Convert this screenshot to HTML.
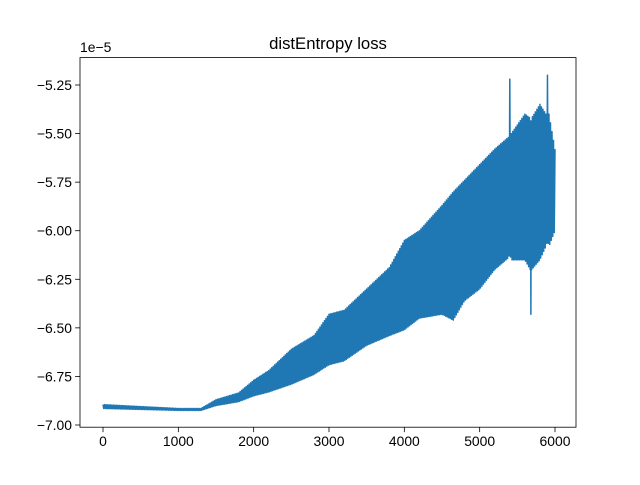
<!DOCTYPE html>
<html><head><meta charset="utf-8"><style>
body{margin:0;background:#fff}
svg text{font-family:"Liberation Sans","DejaVu Sans",sans-serif;fill:#000}
</style></head><body>
<svg width="640" height="480" id="c">
<rect x="0" y="0" width="640" height="480" fill="#fff"/>
<text x="328" y="49" font-size="16.7" text-anchor="middle">distEntropy loss</text>
<text x="80" y="52" font-size="13.9">1e−5</text>
<g id="series"></g>
<g id="axes"></g>
</svg>
<script>
const xTicks=[0,1000,2000,3000,4000,5000,6000];
const yTicks=[-5.25,-5.50,-5.75,-6.00,-6.25,-6.50,-6.75,-7.00];
const yTickLabels=["−5.25","−5.50","−5.75","−6.00","−6.25","−6.50","−6.75","−7.00"];
const steps=[0,500,1000,1300,1500,1800,2000,2200,2500,2800,3000,3200,3500,3800,4000,4200,4500,4650,4800,5000,5200,5380,5400,5420,5600,5670,5680,5690,5800,5880,5900,5920,6000];
const upper=[-6.895,-6.905,-6.915,-6.915,-6.87,-6.835,-6.77,-6.72,-6.61,-6.54,-6.43,-6.41,-6.30,-6.19,-6.05,-6.00,-5.87,-5.80,-5.74,-5.66,-5.58,-5.52,-5.22,-5.50,-5.40,-5.42,-5.45,-5.42,-5.35,-5.40,-5.20,-5.40,-5.58];
const lower=[-6.915,-6.92,-6.925,-6.925,-6.90,-6.88,-6.85,-6.83,-6.79,-6.74,-6.69,-6.67,-6.59,-6.54,-6.51,-6.45,-6.43,-6.46,-6.36,-6.30,-6.20,-6.14,-6.12,-6.15,-6.15,-6.20,-6.43,-6.20,-6.15,-6.08,-6.05,-6.08,-6.00];
const L=80,R=576,T=57.6,B=427.2;
const xs=v=>103+(v-0)*(555-103)/6000;
const ys=v=>85+(-5.25-v)*(425-85)/1.75;
const NS="http://www.w3.org/2000/svg";
function mk(t,a,p){const e=document.createElementNS(NS,t);for(const k in a)e.setAttribute(k,a[k]);p.appendChild(e);return e;}
const pts=[];
let n=0;
for(let i=0;i<steps.length-1;i++){
  const x0=steps[i],x1=steps[i+1];
  const st=Math.min(10,(x1-x0)/2);
  for(let x=x0;x<x1;x+=st){
    const f=(x-x0)/(x1-x0);
    const hi=upper[i]+(upper[i+1]-upper[i])*f;
    const lo=lower[i]+(lower[i+1]-lower[i])*f;
    const v=(n%2===0)?hi:lo;
    n++;
    pts.push(xs(x).toFixed(2)+","+ys(v).toFixed(2));
  }
}
pts.push(xs(6000)+","+ys(upper[upper.length-1]));
const g=document.getElementById('series');
const pl=mk('polyline',{points:pts.join(' '),fill:'none',stroke:'#1f77b4','stroke-width':1.5,'stroke-linejoin':'round'},g);


const a=document.getElementById('axes');
const fr=mk('rect',{x:L,y:T,width:R-L,height:B-T,fill:'none',stroke:'#000','stroke-width':0.8},a);


xTicks.forEach(t=>{
  const x=xs(t);
  const tk=mk('line',{x1:x,x2:x,y1:B,y2:B+4.9,stroke:'#000','stroke-width':0.8},a);
  
  
  const tx=mk('text',{x:x,y:B+19,'font-size':13.9,'text-anchor':'middle'},a);
  tx.textContent=t;
  
  
});
yTicks.forEach((t,i)=>{
  const y=ys(t);
  const tk=mk('line',{x1:L-4.9,x2:L,y1:y,y2:y,stroke:'#000','stroke-width':0.8},a);
  
  
  const tx=mk('text',{x:L-8,y:y+5,'font-size':13.9,'text-anchor':'end'},a);
  tx.textContent=yTickLabels[i];
  
  
});
</script>
</body></html>
